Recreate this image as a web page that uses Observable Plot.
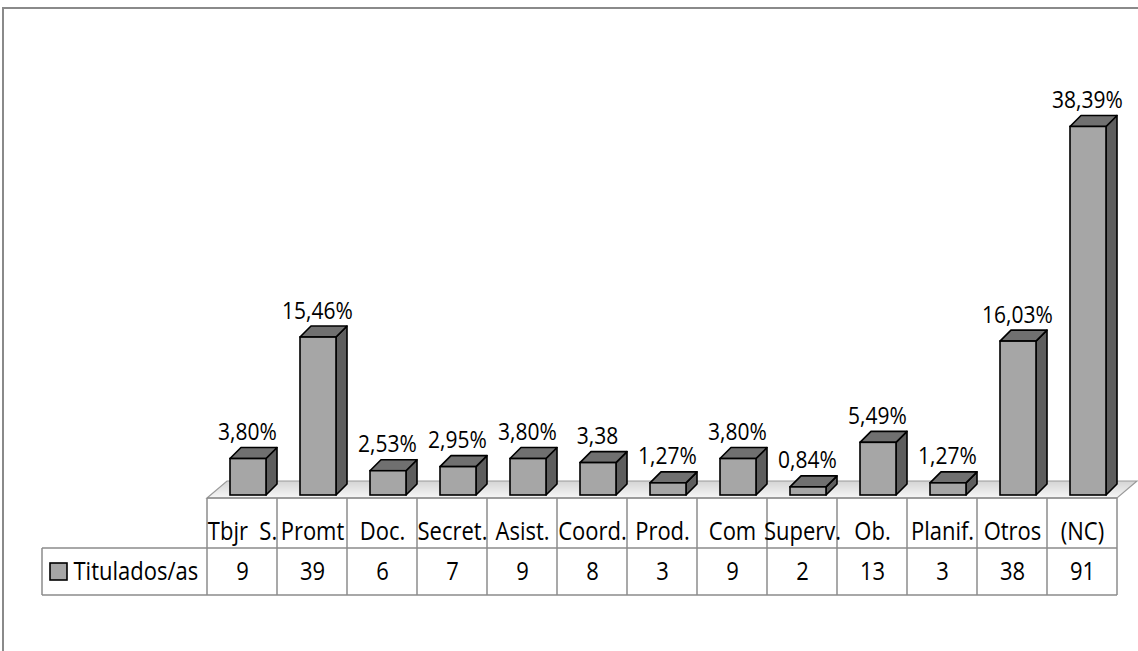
<!DOCTYPE html>
<html><head><meta charset="utf-8">
<script src="https://cdn.jsdelivr.net/npm/d3@7"></script>
<script src="https://cdn.jsdelivr.net/npm/@observablehq/plot@0.6"></script>
<style>body{margin:0;background:#fff}#chart svg{display:block}</style>
</head><body><div id="chart"></div>
<script>
const categories = ["Tbjr\u00a0\u00a0S.","Promt","Doc.","Secret.","Asist.","Coord.","Prod.","Com","Superv.","Ob.","Planif.","Otros","(NC)"];
const counts = [9,39,6,7,9,8,3,9,2,13,3,38,91];
const percentLabels = ["3,80%","15,46%","2,53%","2,95%","3,80%","3,38","1,27%","3,80%","0,84%","5,49%","1,27%","16,03%","38,39%"];
const seriesName = "Titulados/as";

const data = categories.map((c, i) => ({category: c, count: counts[i], label: percentLabels[i]}));

const FONT = "'Open Sans','Noto Sans',sans-serif";
const W = 1138, H = 651;

function stretch(index, scales, values, dims, context, next) {
  const g = next(index, scales, values, dims, context);
  d3.select(g).selectAll("text").attr("transform", function () {
    return (this.getAttribute("transform") || "") + " scale(1,1.12)";
  });
  return g;
}

function decor(index, scales, values, dims) {
  const g = d3.create("svg:g");
  const x0 = dims.marginLeft, x1 = dims.width - dims.marginRight;
  const yb = scales.y(0);
  const bw = (x1 - x0) / categories.length;
  const defs = g.append("defs");
  const grad = defs.append("linearGradient").attr("id", "floorGrad").attr("x1", 0).attr("y1", 0).attr("x2", 0).attr("y2", 1);
  grad.append("stop").attr("offset", "0%").attr("stop-color", "#d4d4d4");
  grad.append("stop").attr("offset", "100%").attr("stop-color", "#f6f6f6");
  g.append("path").attr("d", `M3,${dims.height}V8H${dims.width}`)
    .attr("fill", "none").attr("stroke", "#8a8a8a").attr("stroke-width", 2);
  const ff = yb + 3, fd = 20, fh = 17;
  g.append("path").attr("d", `M${x0},${ff}L${x0 + fd},${ff - fh}H${x1 + fd}L${x1},${ff}Z`)
    .attr("fill", "url(#floorGrad)").attr("stroke", "#9a9a9a").attr("stroke-width", 1.2);
  const dx = 11, dy = 11;
  for (const i of index) {
    const bx = scales.x(data[i].category);
    const L = bx + 23, R = bx + 59, T = scales.y(data[i].count), B = yb;
    g.append("path").attr("d", `M${R},${T}L${R + dx},${T - dy}V${B - dy}L${R},${B}Z`)
      .attr("fill", "#5e5e5e").attr("stroke", "#000").attr("stroke-width", 1.6).attr("stroke-linejoin", "round");
    g.append("path").attr("d", `M${L},${T}L${L + dx},${T - dy}H${R + dx}L${R},${T}Z`)
      .attr("fill", "#707070").attr("stroke", "#000").attr("stroke-width", 1.6).attr("stroke-linejoin", "round");
    g.append("rect").attr("x", L).attr("y", T).attr("width", R - L).attr("height", B - T)
      .attr("fill", "#a6a6a6").attr("stroke", "#000").attr("stroke-width", 1.6);
  }
  const r0 = ff, r1 = yb + 53, r2 = yb + 100, lx = x0 - 165;
  const grid = g.append("g").attr("stroke", "#8c8c8c").attr("stroke-width", 1.5).attr("fill", "none");
  grid.append("path").attr("d", `M${x0},${r0}H${x1}`);
  grid.append("path").attr("d", `M${lx},${r1}H${x1}M${lx},${r2}H${x1}M${lx},${r1}V${r2}`);
  for (let k = 0; k <= categories.length; k++) {
    const xx = x0 + k * bw;
    grid.append("path").attr("d", `M${xx},${r0}V${r2}`);
  }
  g.append("rect").attr("x", lx + 8).attr("y", r1 + 15).attr("width", 17).attr("height", 17)
    .attr("fill", "#a6a6a6").attr("stroke", "#000").attr("stroke-width", 1.6);
  return g.node();
}

const chart = Plot.plot({
  width: W, height: H,
  marginLeft: 207, marginRight: 21, marginTop: 90, marginBottom: 156,
  x: {type: "band", domain: categories, padding: 0, axis: null},
  y: {domain: [0, 100], axis: null},
  style: {fontFamily: FONT, background: "white", color: "#000"},
  marks: [
    Plot.barY(data, {x: "category", y: "count", render: decor}),
    Plot.text(data, {x: "category", y: "count", text: "label", dx: 5, dy: -19, lineAnchor: "bottom", fontSize: 21, fill: "#000", render: stretch}),
    Plot.text(data, {x: "category", y: () => 0, text: "category", dy: 37, fontSize: 22, fill: "#000", render: stretch}),
    Plot.text(data, {x: "category", y: () => 0, text: d => String(d.count), dy: 77, fontSize: 22, fill: "#000", render: stretch}),
    Plot.text([seriesName], {frameAnchor: "bottom-left", text: d => d, dx: -134, dy: 77, textAnchor: "start", lineAnchor: "middle", fontSize: 22, fill: "#000", render: stretch})
  ]
});
document.getElementById("chart").appendChild(chart);
</script>
</body></html>
